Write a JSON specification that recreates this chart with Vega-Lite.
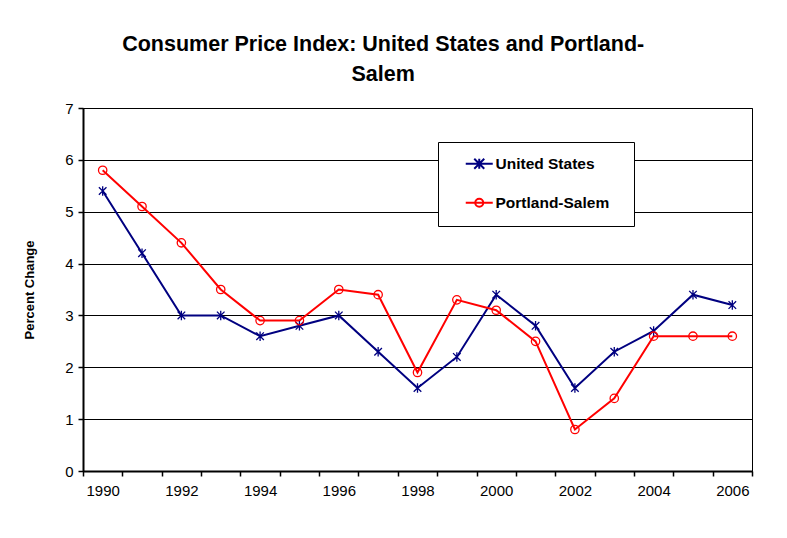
{
  "$schema": "https://vega.github.io/schema/vega-lite/v6.json",
  "width": 669,
  "height": 363,
  "autosize": {"type": "none"},
  "padding": {"left": 83, "top": 108, "right": 35, "bottom": 67},
  "background": "white",
  "title": {
    "text": ["Consumer Price Index: United States and Portland-", "Salem"],
    "font": "Liberation Sans",
    "fontSize": 21.5,
    "fontWeight": "bold",
    "color": "black",
    "lineHeight": 30,
    "anchor": "middle",
    "frame": "bounds",
    "dx": -5,
    "offset": 16
  },
  "data": {
    "values": [
      {"year": 1990, "series": "United States", "value": 5.4},
      {"year": 1991, "series": "United States", "value": 4.2},
      {"year": 1992, "series": "United States", "value": 3.0},
      {"year": 1993, "series": "United States", "value": 3.0},
      {"year": 1994, "series": "United States", "value": 2.6},
      {"year": 1995, "series": "United States", "value": 2.8},
      {"year": 1996, "series": "United States", "value": 3.0},
      {"year": 1997, "series": "United States", "value": 2.3},
      {"year": 1998, "series": "United States", "value": 1.6},
      {"year": 1999, "series": "United States", "value": 2.2},
      {"year": 2000, "series": "United States", "value": 3.4},
      {"year": 2001, "series": "United States", "value": 2.8},
      {"year": 2002, "series": "United States", "value": 1.6},
      {"year": 2003, "series": "United States", "value": 2.3},
      {"year": 2004, "series": "United States", "value": 2.7},
      {"year": 2005, "series": "United States", "value": 3.4},
      {"year": 2006, "series": "United States", "value": 3.2},
      {"year": 1990, "series": "Portland-Salem", "value": 5.8},
      {"year": 1991, "series": "Portland-Salem", "value": 5.1},
      {"year": 1992, "series": "Portland-Salem", "value": 4.4},
      {"year": 1993, "series": "Portland-Salem", "value": 3.5},
      {"year": 1994, "series": "Portland-Salem", "value": 2.9},
      {"year": 1995, "series": "Portland-Salem", "value": 2.9},
      {"year": 1996, "series": "Portland-Salem", "value": 3.5},
      {"year": 1997, "series": "Portland-Salem", "value": 3.4},
      {"year": 1998, "series": "Portland-Salem", "value": 1.9},
      {"year": 1999, "series": "Portland-Salem", "value": 3.3},
      {"year": 2000, "series": "Portland-Salem", "value": 3.1},
      {"year": 2001, "series": "Portland-Salem", "value": 2.5},
      {"year": 2002, "series": "Portland-Salem", "value": 0.8},
      {"year": 2003, "series": "Portland-Salem", "value": 1.4},
      {"year": 2004, "series": "Portland-Salem", "value": 2.6},
      {"year": 2005, "series": "Portland-Salem", "value": 2.6},
      {"year": 2006, "series": "Portland-Salem", "value": 2.6}
    ]
  },
  "encoding": {
    "x": {
      "field": "year",
      "type": "ordinal",
      "bandPosition": 0.5,
      "scale": {"type": "band", "paddingInner": 0, "paddingOuter": 0},
      "axis": {
        "title": null,
        "labelAngle": 0,
        "tickBand": "extent",
        "labelExpr": "datum.value % 2 == 0 ? datum.label : ''",
        "labelPadding": 7,
        "grid": false
      }
    },
    "y": {
      "field": "value",
      "type": "quantitative",
      "scale": {"domain": [0, 7], "nice": false},
      "axis": {
        "title": "Percent Change",
        "values": [0, 1, 2, 3, 4, 5, 6, 7],
        "format": "d",
        "grid": true,
        "labelPadding": 5,
        "titlePadding": 28,
        "titleFontSize": 13,
        "titleFontWeight": "bold"
      }
    },
    "color": {
      "field": "series",
      "type": "nominal",
      "scale": {"domain": ["United States", "Portland-Salem"], "range": ["#000080", "#FF0000"]},
      "legend": {
        "title": ".",
        "titleOrient": "right",
        "titleColor": "transparent",
        "titleFontSize": 8,
        "titlePadding": 8,
        "orient": "none",
        "legendX": 355,
        "legendY": 34,
        "padding": 14,
        "strokeColor": "black",
        "fillColor": "white",
        "symbolSize": 100,
        "symbolStrokeWidth": 2,
        "symbolFillColor": "transparent",
        "rowPadding": 21,
        "labelOffset": 28,
        "labelFont": "Liberation Sans",
        "labelFontSize": 15.5,
        "labelFontWeight": "bold",
        "labelColor": "black"
      }
    }
  },
  "layer": [
    {
      "mark": {"type": "line", "strokeWidth": 2}
    },
    {
      "transform": [{"filter": "datum.series === 'United States'"}],
      "mark": {"type": "point", "filled": false, "strokeWidth": 1.3, "opacity": 1, "size": 90, "shape": "M0,-1L0,1M-0.8,-0.8L0.8,0.8M-0.8,0.8L0.8,-0.8"}
    },
    {
      "transform": [{"filter": "datum.series === 'Portland-Salem'"}],
      "mark": {"type": "point", "filled": false, "strokeWidth": 1.3, "opacity": 1, "size": 70, "shape": "circle"}
    },
    {
      "mark": {"type": "point", "filled": false, "strokeWidth": 2, "opacity": 1},
      "encoding": {
        "shape": {
          "field": "series",
          "type": "nominal",
          "scale": {
            "domain": ["United States", "Portland-Salem"],
            "range": ["M1.2,0L6.6,0M3.9,-1L3.9,1M2.9,-1L4.9,1M2.9,1L4.9,-1", "M1.2,0L6.6,0M4.7,0A0.8,0.8 0 1,1 3.1,0A0.8,0.8 0 1,1 4.7,0"]
          }
        },
        "size": {"value": 0}
      }
    }
  ],
  "config": {
    "view": {"stroke": "black", "strokeWidth": 1},
    "axis": {
      "labelFont": "Liberation Sans",
      "labelFontSize": 15,
      "labelColor": "black",
      "titleFont": "Liberation Sans",
      "titleColor": "black",
      "domainColor": "black",
      "domainWidth": 2,
      "tickColor": "black",
      "tickWidth": 1.5,
      "tickSize": 5,
      "gridColor": "black",
      "gridWidth": 1,
      "gridOpacity": 1
    }
  }
}
